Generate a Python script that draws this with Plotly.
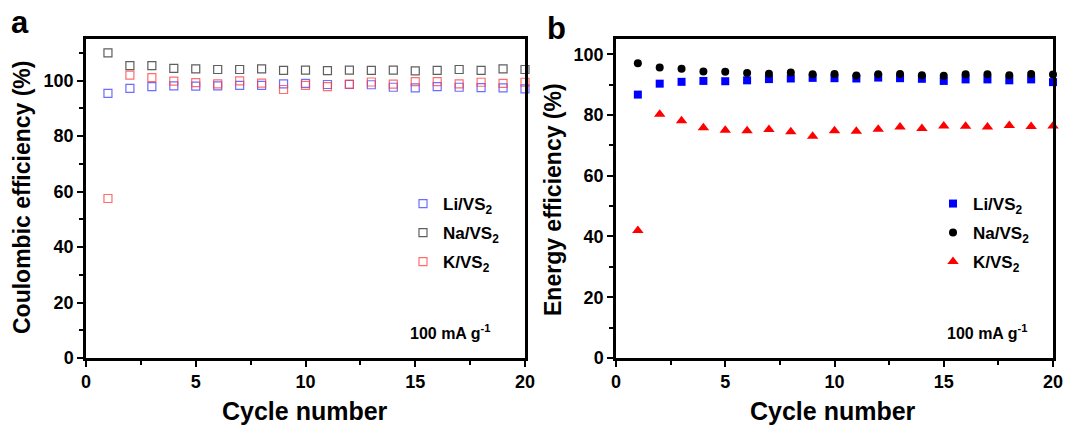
import plotly.graph_objects as go

cycles = list(range(1, 21))

ce_li = [95.4, 97.2, 97.8, 98.1, 98.0, 98.1, 98.3, 98.3, 98.8, 99.0,
         98.6, 98.6, 98.5, 97.6, 97.4, 97.8, 97.6, 97.5, 97.4, 97.0]
ce_na = [110.0, 105.4, 105.4, 104.4, 104.2, 104.0, 104.0, 104.2, 103.7, 103.8,
         103.6, 103.8, 103.7, 103.8, 103.5, 103.7, 104.0, 103.7, 104.2, 104.0]
ce_k = [57.5, 102.0, 101.1, 99.8, 99.3, 98.8, 99.9, 99.1, 96.8, 98.3,
        97.8, 98.7, 99.5, 98.7, 99.6, 99.6, 98.8, 99.4, 99.0, 99.4]

ee_li = [86.7, 90.3, 90.9, 91.2, 91.1, 91.4, 91.8, 92.0, 92.2, 92.1,
         92.0, 92.3, 92.1, 91.9, 91.2, 91.7, 91.7, 91.4, 91.7, 90.8]
ee_na = [97.0, 95.6, 95.2, 94.3, 94.2, 93.8, 93.6, 94.0, 93.4, 93.5,
         93.0, 93.4, 93.5, 93.1, 92.9, 93.4, 93.4, 93.1, 93.5, 93.3]
ee_k = [42.0, 80.2, 78.1, 75.8, 75.0, 74.8, 75.2, 74.5, 73.0, 74.8,
        74.6, 75.3, 76.0, 75.5, 76.4, 76.3, 76.0, 76.5, 76.2, 76.4]

names = ["Li/VS<sub>2</sub>", "Na/VS<sub>2</sub>", "K/VS<sub>2</sub>"]
x_ticks = [0, 5, 10, 15, 20]

FONT = "Liberation Sans, Arial, sans-serif"
W, H = 1065, 429

fig = go.Figure()

legend_rows = [204, 233, 262]

open_cols = ["rgba(60,60,255,0.75)", "rgba(40,40,40,0.75)", "rgba(255,60,60,0.75)"]
for i, (name, vals, col) in enumerate(zip(names, [ce_li, ce_na, ce_k], open_cols)):
    fig.add_trace(go.Scatter(
        x=cycles, y=vals, mode="markers", name=name,
        marker=dict(symbol="square-open", size=8, color=col, line=dict(width=1.2, color=col)),
        xaxis="x", yaxis="y", legend="legend" if i == 0 else f"legend{i + 1}", cliponaxis=False))

filled = [("square", "#0000ff", 8), ("circle", "#000000", 8), ("triangle-up", "#ff0000", 10)]
for i, (name, vals, (sym, col, sz)) in enumerate(zip(names, [ee_li, ee_na, ee_k], filled)):
    fig.add_trace(go.Scatter(
        x=cycles, y=vals, mode="markers", name=name,
        marker=dict(symbol=sym, size=sz, color=col),
        xaxis="x2", yaxis="y2", legend=f"legend{i + 4}", cliponaxis=False))


def axis(**kw):
    d = dict(
        showline=True, linewidth=2.5, linecolor="black", mirror=True,
        ticks="outside", ticklen=6, tickwidth=2, tickcolor="black",
        showgrid=False, zeroline=False, automargin=False,
        tickfont=dict(family=FONT, size=18, color="black", weight="bold"),
    )
    d.update(kw)
    return d


minor_x = dict(dtick=2.5, tick0=0, ticks="outside", ticklen=4, tickwidth=2, tickcolor="black")
minor_y = dict(dtick=10, tick0=0, ticks="outside", ticklen=4, tickwidth=2, tickcolor="black")
ydom = [(429 - 358) / H, (429 - 39) / H]

layout = dict(
    width=W, height=H,
    margin=dict(l=0, r=0, t=0, b=0, autoexpand=False),
    paper_bgcolor="white", plot_bgcolor="white",
    font=dict(family=FONT, color="black"),
    xaxis=axis(domain=[86 / W, 525 / W], range=[0, 20], tickvals=x_ticks, minor=minor_x, anchor="y"),
    yaxis=axis(domain=ydom, range=[0, 115], dtick=20, minor=minor_y, anchor="x"),
    xaxis2=axis(domain=[616 / W, 1053 / W], range=[0, 20], tickvals=x_ticks, minor=minor_x, anchor="y2"),
    yaxis2=axis(domain=ydom, range=[0, 105], dtick=20, minor=minor_y, anchor="x2"),
    showlegend=True,
)

for i in range(6):
    key = "legend" if i == 0 else f"legend{i + 1}"
    x0 = 403 if i < 3 else 933
    yc = legend_rows[i % 3]
    layout[key] = dict(x=x0 / W, y=1 - yc / H, xanchor="left", yanchor="middle",
                       bgcolor="rgba(0,0,0,0)", font=dict(family=FONT, size=17, weight="bold", color="black"),
                       itemwidth=30)

fig.update_layout(**layout)

annots = [
    dict(text="a", x=20 / W, y=1 - 22 / H, font=dict(size=31)),
    dict(text="b", x=556 / W, y=1 - 28 / H, font=dict(size=31)),
    dict(text="Coulombic efficiency (%)", x=22 / W, y=1 - 198 / H, font=dict(size=23), textangle=-90),
    dict(text="Energy efficiency (%)", x=553 / W, y=1 - 200 / H, font=dict(size=23), textangle=-90),
    dict(text="Cycle number", x=305 / W, y=1 - 411 / H, font=dict(size=25)),
    dict(text="Cycle number", x=833 / W, y=1 - 411 / H, font=dict(size=25)),
    dict(text="100 mA g<sup>-1</sup>", x=451 / W, y=1 - 332 / H, font=dict(size=16)),
    dict(text="100 mA g<sup>-1</sup>", x=987 / W, y=1 - 332 / H, font=dict(size=16)),
]
for a in annots:
    f = dict(family=FONT, color="black", weight="bold")
    f.update(a.pop("font"))
    fig.add_annotation(xref="paper", yref="paper", xanchor="center", yanchor="middle",
                       showarrow=False, font=f, **a)

fig.write_html("out.html")
